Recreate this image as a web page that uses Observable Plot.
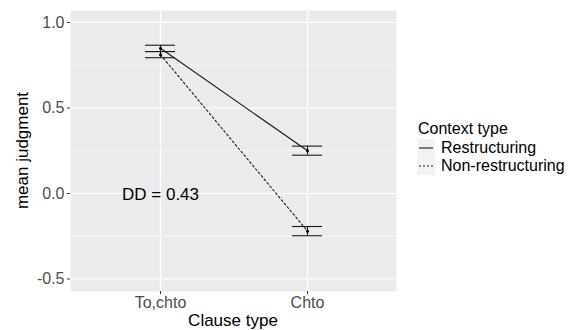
<!DOCTYPE html>
<html>
<head>
<meta charset="utf-8">
<script src="https://cdn.jsdelivr.net/npm/d3@7"></script>
<script src="https://cdn.jsdelivr.net/npm/@observablehq/plot@0.6"></script>
<style>
  html, body { margin: 0; padding: 0; background: #fff; }
  #chart { width: 570px; height: 330px; }
  svg { font-family: "Liberation Sans", Arial, Helvetica, sans-serif; }
</style>
</head>
<body>
<div id="chart"></div>
<script>
// ---- data ----
const categories = ["To,chto", "Chto"];
const seriesNames = ["Restructuring", "Non-restructuring"];
const restrMean = [0.849, 0.250];
const restrLow  = [0.830, 0.224];
const restrHigh = [0.867, 0.277];
const nonMean   = [0.812, -0.220];
const nonLow    = [0.794, -0.247];
const nonHigh   = [0.830, -0.193];
const yMajorTicks = [-0.5, 0.0, 0.5, 1.0];
const yMinorTicks = [-0.25, 0.25, 0.75];
const annotationText = "DD = 0.43";

const rows = [];
categories.forEach((c, i) => {
  rows.push({clause: c, context: seriesNames[0], mean: restrMean[i], lo: restrLow[i], hi: restrHigh[i]});
  rows.push({clause: c, context: seriesNames[1], mean: nonMean[i], lo: nonLow[i], hi: nonHigh[i]});
});
const restr = rows.filter(d => d.context === seriesNames[0]);
const non = rows.filter(d => d.context === seriesNames[1]);

const W = 570, H = 330;
const mL = 70, mR = 174, mT = 10, mB = 39;

const plot = Plot.plot({
  width: W, height: H,
  marginLeft: mL, marginRight: mR, marginTop: mT, marginBottom: mB,
  style: {fontFamily: '"Liberation Sans", Arial, sans-serif', background: "#fff"},
  x: {type: "band", domain: categories, paddingInner: 0.797, paddingOuter: 0.5, label: null},
  y: {domain: [-0.573, 1.07], label: null},
  marks: [
    Plot.frame({fill: "#ebebeb", stroke: null}),
    Plot.ruleY(yMinorTicks, {stroke: "#fff", strokeWidth: 0.6}),
    Plot.ruleY(yMajorTicks, {stroke: "#fff", strokeWidth: 1.2}),
    Plot.ruleX(categories, {x: d => d, stroke: "#fff", strokeWidth: 1.2}),
    Plot.axisY({ticks: yMajorTicks, tickFormat: d => d.toFixed(1), tickSize: 3, tickPadding: 3,
      stroke: "#333", fill: "#4d4d4d", fontSize: 16, label: null}),
    Plot.axisX({tickSize: 3, tickPadding: 2, stroke: "#333", fill: "#4d4d4d", fontSize: 16, label: null}),
    // error bars
    Plot.ruleX(rows, {x: "clause", y1: "lo", y2: "hi", stroke: "#1a1a1a", strokeWidth: 1.1}),
    Plot.tickY(rows, {x: "clause", y: "lo", stroke: "#1a1a1a", strokeWidth: 1.1}),
    Plot.tickY(rows, {x: "clause", y: "hi", stroke: "#1a1a1a", strokeWidth: 1.1}),
    // lines
    Plot.line(restr, {x: "clause", y: "mean", stroke: "#1a1a1a", strokeWidth: 1.1}),
    Plot.line(non, {x: "clause", y: "mean", stroke: "#1a1a1a", strokeWidth: 1.1, strokeDasharray: "2,2.5"}),
    Plot.dot(rows, {x: "clause", y: "mean", r: 1.5, fill: "#000", stroke: null}),
    Plot.text([annotationText], {x: () => categories[0], y: () => 0, text: d => d,
      fontSize: 17, fill: "#000", textAnchor: "middle", dy: 1})
  ]
});

document.getElementById("chart").appendChild(plot);

// axis titles and legend
const svg = d3.select(plot);
const panelCx = mL + (W - mL - mR) / 2;
const panelCy = mT + (H - mT - mB) / 2;
svg.append("text").attr("x", panelCx).attr("y", 326).attr("text-anchor", "middle")
  .attr("font-size", 17).attr("fill", "#000").text("Clause type");
svg.append("text").attr("transform", `translate(28,${panelCy}) rotate(-90)`).attr("text-anchor", "middle")
  .attr("font-size", 17).attr("fill", "#000").text("mean judgment");

const lg = svg.append("g").attr("transform", "translate(417,0)").attr("text-anchor", "start");
lg.append("text").attr("x", 1).attr("y", 134).attr("font-size", 16).attr("fill", "#000")
  .attr("text-anchor", "start").text("Context type");
const keyY = [139, 157];
const dashes = [null, "2,2"];
seriesNames.forEach((name, i) => {
  lg.append("rect").attr("x", 0).attr("y", keyY[i]).attr("width", 18).attr("height", 18).attr("fill", "#f2f2f2");
  const ln = lg.append("line").attr("x1", 2).attr("x2", 16).attr("y1", keyY[i] + 9).attr("y2", keyY[i] + 9)
    .attr("stroke", "#1a1a1a").attr("stroke-width", 1.1);
  if (dashes[i]) ln.attr("stroke-dasharray", dashes[i]);
  lg.append("text").attr("x", 24).attr("y", keyY[i] + 14).attr("font-size", 16).attr("fill", "#000")
    .attr("text-anchor", "start").text(name);
});
</script>
</body>
</html>
